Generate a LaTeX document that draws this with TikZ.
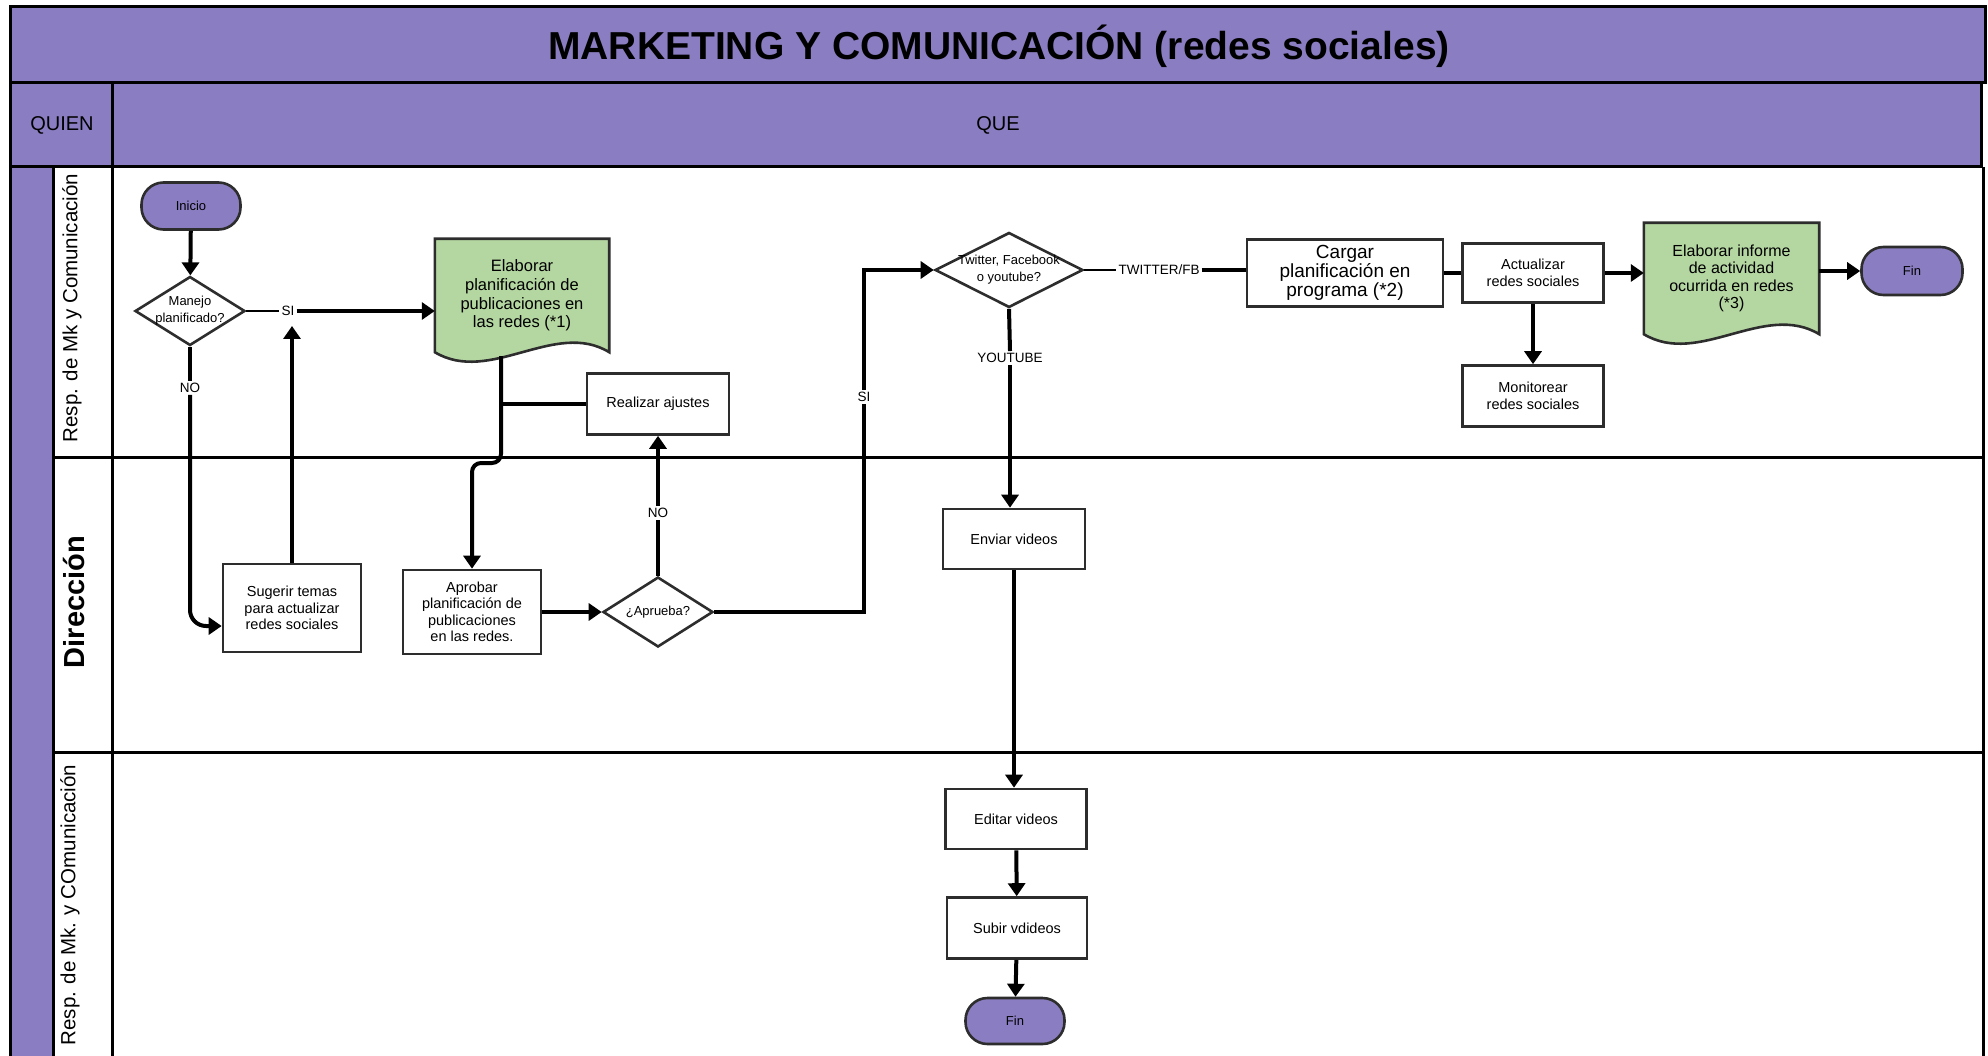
\documentclass[tikz,border=0pt]{standalone}
\usepackage{fontspec}
\setmainfont{Liberation Sans}
\usetikzlibrary{shapes.geometric,arrows.meta,calc}
\definecolor{lanepurple}{RGB}{139,125,193}
\definecolor{docgreen}{RGB}{180,214,161}
\definecolor{edge}{RGB}{45,45,45}
\newcommand\fsz[2]{\fontsize{#1}{#2}\selectfont}
% zero-width text block, so a diamond keeps its own size
\newcommand\zerowide[1]{\makebox[0pt]{\begin{tabular}{@{}c@{}}#1\end{tabular}}}
\pgfdeclarelayer{frame}
\pgfdeclarelayer{background}
\pgfsetlayers{frame,background,main}

\begin{document}
\begin{tikzpicture}[x=1pt,y=-1pt,
  frameline/.style={draw=black,line width=3pt},
  box/.style={draw=edge,line width=2.6pt,fill=white,rectangle,inner sep=0pt,align=center,font=\fsz{14.5}{16.5}},
  term/.style={draw=edge,line width=2.6pt,fill=lanepurple,rectangle,rounded corners=22pt,inner sep=0pt,font=\fsz{13}{15}},
  dec/.style={draw=edge,line width=2.6pt,fill=white,diamond,inner sep=0pt,font=\fsz{13}{17}},
  docnode/.style={rectangle,inner sep=0pt,align=center},
  docshape/.style={draw=edge,line width=2.6pt,fill=docgreen},
  conn/.style={line width=4pt,draw=black},
  arr/.style={conn,-{Triangle[width=17pt,length=13pt]}},
  thinconn/.style={line width=2.5pt,draw=black},
  tag/.style={fill=white,inner sep=2pt,font=\fsz{13.5}{15}},
]
\useasboundingbox (0,0) rectangle (1988,1056);
\clip (0,0) rectangle (1988,1056);

% ---------- swimlane frame ----------
\begin{pgfonlayer}{frame}
  \path[fill=lanepurple,frameline] (10,7) rectangle (1985,83);
  \path[fill=lanepurple,frameline] (10,83) rectangle (112,167);
  \path[fill=lanepurple,frameline] (112,83) rectangle (1981,167);
  \path[fill=lanepurple,frameline] (10,167) rectangle (53,1080);
  \draw[frameline] (53,167) -- (53,1080);
  \draw[frameline] (112,167) -- (112,1080);
  \draw[frameline] (1983,167) -- (1983,1080);
  \draw[frameline] (53,457) -- (1983,457);
  \draw[frameline] (53,752) -- (1983,752);
\end{pgfonlayer}

\node[font=\bfseries\fsz{39}{41}] (title) at (999,46) {MARKETING Y COMUNICACIÓN (redes sociales)};
\node[font=\fsz{20}{22}] (quien) at (62,125) {QUIEN};
\node[font=\fsz{20}{22}] (que) at (998,125) {QUE};

\node[rotate=90,font=\fsz{20.5}{22}] (lane1) at (72,308) {Resp. de Mk y Comunicación};
\node[rotate=90,font=\bfseries\fsz{29}{31}] (lane2) at (74,602) {Dirección};
\node[rotate=90,font=\fsz{20.5}{22}] (lane3) at (70,905) {Resp. de Mk. y COmunicación};

% ---------- flow nodes ----------
\node[term,minimum width=99pt,minimum height=47pt] (ini) at (191,206) {Inicio};
\node[dec,minimum width=110pt,minimum height=69pt] (man) at (190,311) {\raisebox{8pt}{\zerowide{Manejo\\planificado?}}};

\node[docnode,minimum width=174pt,minimum height=113pt,font=\fsz{16.5}{18.7}] (doc1) at (522,295.5)
  {Elaborar\\planificación de\\publicaciones en\\las redes (*1)};
\begin{pgfonlayer}{background}
  \draw[docshape] (doc1.south west) -- (doc1.north west) -- (doc1.north east) -- (doc1.south east)
    .. controls +(-54,-33) and +(55,33) .. (doc1.south west) -- cycle;
\end{pgfonlayer}
\coordinate (doc1b) at (501,356);

\node[box,minimum width=142pt,minimum height=61pt] (aju) at (658,404) {Realizar ajustes};
\node[box,minimum width=138pt,minimum height=88pt] (sug) at (292,608) {Sugerir temas\\para actualizar\\redes sociales};
\node[box,minimum width=138pt,minimum height=84pt] (apr) at (472,612) {Aprobar\\planificación de\\publicaciones\\en las redes.};
\node[dec,minimum width=110pt,minimum height=70pt] (apq) at (658,612) {\zerowide{¿Aprueba?}};

\node[dec,minimum width=148pt,minimum height=75pt] (tw) at (1009,270) {\zerowide{Twitter, Facebook\\o youtube?}};
\node[box,minimum width=196pt,minimum height=67pt,font=\fsz{19}{17.5}] (car) at (1345,273) {Cargar\\planificación en\\programa (*2)};
\node[box,minimum width=141pt,minimum height=59pt] (act) at (1533,273) {Actualizar\\redes sociales};
\node[box,minimum width=141pt,minimum height=61pt] (mon) at (1533,396) {Monitorear\\redes sociales};

\node[docnode,minimum width=175pt,minimum height=111pt,font=\fsz{16}{17.5}] (doc2) at (1731.5,278.5)
  {Elaborar informe\\de actividad\\ocurrida en redes\\(*3)};
\begin{pgfonlayer}{background}
  \draw[docshape] (doc2.south west) -- (doc2.north west) -- (doc2.north east) -- (doc2.south east)
    .. controls +(-55,-33) and +(55,33) .. (doc2.south west) -- cycle;
\end{pgfonlayer}
\node[term,minimum width=101pt,minimum height=48pt] (fin1) at (1912,271) {Fin};

\node[box,minimum width=142pt,minimum height=60pt] (env) at (1014,539) {Enviar videos};
\node[box,minimum width=141pt,minimum height=60pt] (edi) at (1016,819) {Editar videos};
\node[box,minimum width=140pt,minimum height=61pt] (sub) at (1017,928) {Subir vdideos};
\node[term,minimum width=99pt,minimum height=46pt] (fin2) at (1015,1021) {Fin};

% ---------- connector labels ----------
\node[tag] (si1) at (288,311) {SI};
\node[tag] (no1) at (190,388) {NO};
\node[tag] (no2) at (658,513) {NO};
\node[tag] (si2) at (864,397) {SI};
\node[tag] (tfb) at (1159,270) {TWITTER/FB};
\node[tag] (yt) at (1010,358) {YOUTUBE};

\coordinate (sijoin) at (292,326);
\coordinate (sugin) at ($(sug.west)+(0,18)$);

% ---------- connectors ----------
\draw[arr] (ini) -- (man);
\draw[thinconn] (man.east) -- (si1.west);
\draw[arr] (si1.east) -- (si1.east -| doc1.west);
\draw[arr] (sug.north) -- (sijoin);
\draw[conn] (man.south) -- (no1.north);
\draw[arr,rounded corners=16pt] (no1.south) |- (sugin);

\draw[arr,rounded corners=9pt] (doc1b) -- ++(0,107) -| (apr.north);
\draw[conn] (aju.west) -- (aju.west -| doc1b);

\draw[arr] (apr) -- (apq);
\draw[conn] (apq.north) -- (no2.south);
\draw[arr] (no2.north) -- (aju.south);
\draw[conn] (apq.east) -| (si2.south);
\draw[arr] (si2.north) |- (tw.west);

\draw[thinconn] (tw.east) -- (tfb.west);
\draw[conn] (tfb.east) -- (tfb.east -| car.west);
\draw[conn] (tw.south) -- (yt.north);
\draw[arr] (yt.south) -- (yt.south |- env.north);

\draw[arr] (env.south) -- (env.south |- edi.north);
\draw[arr] (edi) -- (sub);
\draw[arr] (sub) -- (fin2);

\draw[conn] (car.east) -- (act.west);
\draw[arr] (act.east) -- (act.east -| doc2.west);
\draw[arr] (act) -- (mon);
\draw[arr] (fin1.west -| doc2.east) -- (fin1.west);
\end{tikzpicture}
\end{document}
